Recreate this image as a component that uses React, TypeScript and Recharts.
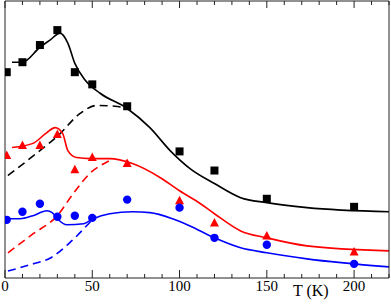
import React from 'react';
import { ComposedChart, Line, Scatter, XAxis, YAxis } from 'recharts';

// measured points (T in K, value in arbitrary units)
const squares = [
  { T: 1, v: 74.3 }, { T: 10, v: 77.9 }, { T: 20, v: 84.1 }, { T: 30, v: 89.5 },
  { T: 40, v: 74.3 }, { T: 50, v: 69.9 }, { T: 70, v: 62.0 }, { T: 100, v: 45.7 },
  { T: 120, v: 38.8 }, { T: 150, v: 28.6 }, { T: 200, v: 25.7 },
];
const triangles = [
  { T: 1, v: 44.2 }, { T: 10, v: 47.8 }, { T: 20, v: 47.8 }, { T: 30, v: 51.8 },
  { T: 40, v: 39.1 }, { T: 50, v: 43.5 }, { T: 70, v: 41.3 }, { T: 100, v: 27.9 },
  { T: 120, v: 19.9 }, { T: 150, v: 15.2 }, { T: 200, v: 9.4 },
];
const circles = [
  { T: 1, v: 21.0 }, { T: 10, v: 23.9 }, { T: 20, v: 26.8 }, { T: 30, v: 22.1 },
  { T: 40, v: 22.5 }, { T: 50, v: 21.7 }, { T: 70, v: 28.3 }, { T: 100, v: 25.4 },
  { T: 120, v: 14.5 }, { T: 150, v: 12.0 }, { T: 200, v: 5.1 },
];

// model curves
const blackSolid = [
  { T: 4, v: 77.9 }, { T: 10, v: 77.9 }, { T: 20, v: 83.3 }, { T: 25.8, v: 85.9 },
  { T: 31.5, v: 88.4 }, { T: 36, v: 84.8 }, { T: 40, v: 77.5 }, { T: 46, v: 71.4 },
  { T: 54.5, v: 66.7 }, { T: 70, v: 61.2 }, { T: 83, v: 54.3 }, { T: 94.6, v: 46.0 },
  { T: 106, v: 39.5 }, { T: 120, v: 34.1 }, { T: 135, v: 29.0 }, { T: 150, v: 27.2 },
  { T: 173, v: 25.4 }, { T: 220, v: 23.9 },
];
const blackDashed = [
  { T: 1.7, v: 37.0 }, { T: 20, v: 46.0 }, { T: 30.4, v: 51.4 }, { T: 43, v: 59.4 },
  { T: 52.7, v: 62.3 }, { T: 63, v: 62.0 }, { T: 70, v: 61.2 },
];
const redSolid = [
  { T: 4, v: 47.1 }, { T: 16, v: 48.6 }, { T: 24, v: 52.5 }, { T: 28.7, v: 54.3 },
  { T: 33, v: 52.2 }, { T: 36, v: 46.0 }, { T: 41, v: 43.5 }, { T: 49, v: 43.1 },
  { T: 60, v: 43.1 }, { T: 73, v: 41.3 }, { T: 89, v: 36.2 }, { T: 100, v: 31.5 },
  { T: 112, v: 26.8 }, { T: 120, v: 23.2 }, { T: 135, v: 17.0 }, { T: 150, v: 14.5 },
  { T: 173, v: 11.6 }, { T: 220, v: 9.8 },
];
const redDashed = [
  { T: 1.7, v: 9.1 }, { T: 16, v: 15.9 }, { T: 30, v: 22.5 }, { T: 39, v: 30.4 },
  { T: 49, v: 38.0 }, { T: 60, v: 42.4 }, { T: 62, v: 43.1 },
];
const blueSolid = [
  { T: 0, v: 21.4 }, { T: 8.6, v: 21.4 }, { T: 16, v: 22.5 }, { T: 24, v: 24.3 },
  { T: 27, v: 23.6 }, { T: 30, v: 21.4 }, { T: 35.5, v: 19.2 }, { T: 45, v: 19.6 },
  { T: 50.5, v: 21.4 }, { T: 60, v: 23.2 }, { T: 73, v: 23.9 }, { T: 83, v: 23.6 },
  { T: 96, v: 21.4 }, { T: 106, v: 18.8 }, { T: 120, v: 14.5 }, { T: 135, v: 10.9 },
  { T: 150, v: 9.1 }, { T: 173, v: 6.9 }, { T: 220, v: 4.0 },
];
const blueDashed = [
  { T: 1.7, v: 2.5 }, { T: 16, v: 5.1 }, { T: 26, v: 7.2 }, { T: 37, v: 12.7 },
  { T: 50.5, v: 21.4 },
];

const tTicks = [0, 10, 20, 30, 40, 50, 60, 70, 80, 90, 100, 110, 120, 130, 140, 150, 160, 170, 180, 190, 200, 210, 220];
const tLabels = [0, 50, 100, 150, 200];

const FONT = '"Liberation Serif", "Times New Roman", serif';
const AXIS = '#222';
const RED = '#ff0000';
const BLUE = '#0000ff';

const BottomTick = (props: any) => {
  const { x, y, payload } = props;
  const major = tLabels.includes(payload.value);
  return (
    <g>
      <line x1={x} x2={x} y1={y} y2={y - (major ? 8 : 4)} stroke={AXIS} />
      {major && (
        <text x={x} y={y + 13} textAnchor="middle" fontSize={15} fontFamily={FONT} fill="#000">
          {payload.value}
        </text>
      )}
    </g>
  );
};

const TopTick = (props: any) => {
  const { x, y, payload } = props;
  const major = tLabels.includes(payload.value);
  return <line x1={x} x2={x} y1={y} y2={y + (major ? 7 : 4)} stroke={AXIS} />;
};

const Square = (props: any) => (
  <rect x={props.cx - 4} y={props.cy - 4} width={8} height={8} fill="#000" />
);
const Triangle = (props: any) => (
  <polygon
    points={`${props.cx},${props.cy - 5} ${props.cx + 4.5},${props.cy + 3.5} ${props.cx - 4.5},${props.cy + 3.5}`}
    fill={RED}
  />
);
const Dot = (props: any) => <circle cx={props.cx} cy={props.cy} r={4.2} fill={BLUE} />;

export default function App() {
  return (
    <div style={{ position: 'absolute', left: 0, top: 0, width: 391, height: 304, background: '#fff' }}>
      <ComposedChart width={391} height={304} margin={{ top: 0, right: 0, bottom: 0, left: 0 }}>
        <XAxis
          dataKey="T"
          type="number"
          domain={[0, 220]}
          ticks={tTicks}
          interval={0}
          height={26}
          tickSize={0}
          tickMargin={0}
          tickLine={false}
          tick={<BottomTick />}
          axisLine={{ stroke: AXIS }}
          allowDataOverflow
        />
        <XAxis
          xAxisId="top"
          orientation="top"
          dataKey="T"
          type="number"
          domain={[0, 220]}
          ticks={tTicks}
          interval={0}
          height={1}
          tickSize={0}
          tickMargin={0}
          tickLine={false}
          tick={<TopTick />}
          axisLine={{ stroke: AXIS }}
          allowDataOverflow
        />
        <YAxis dataKey="v" type="number" domain={[0, 100]} width={5} tick={false} tickLine={false} axisLine={{ stroke: AXIS }} allowDataOverflow />
        <YAxis yAxisId="r" orientation="right" dataKey="v" type="number" domain={[0, 100]} width={2} tick={false} tickLine={false} axisLine={{ stroke: AXIS }} />

        <Line data={blackDashed} dataKey="v" type="monotone" stroke="#000" strokeWidth={1.6} strokeDasharray="8 5" dot={false} isAnimationActive={false} />
        <Line data={redDashed} dataKey="v" type="monotone" stroke={RED} strokeWidth={1.6} strokeDasharray="8 5" dot={false} isAnimationActive={false} />
        <Line data={blueDashed} dataKey="v" type="monotone" stroke={BLUE} strokeWidth={1.6} strokeDasharray="8 5" dot={false} isAnimationActive={false} />
        <Line data={blackSolid} dataKey="v" type="monotone" stroke="#000" strokeWidth={1.6} dot={false} isAnimationActive={false} />
        <Line data={redSolid} dataKey="v" type="monotone" stroke={RED} strokeWidth={1.6} dot={false} isAnimationActive={false} />
        <Line data={blueSolid} dataKey="v" type="monotone" stroke={BLUE} strokeWidth={1.6} dot={false} isAnimationActive={false} />

        <Scatter data={squares} dataKey="v" shape={<Square />} isAnimationActive={false} />
        <Scatter data={triangles} dataKey="v" shape={<Triangle />} isAnimationActive={false} />
        <Scatter data={circles} dataKey="v" shape={<Dot />} isAnimationActive={false} />
      </ComposedChart>
      <span
        style={{ position: 'absolute', left: 293, top: 283, fontFamily: FONT, fontSize: 16, lineHeight: '16px', color: '#000', whiteSpace: 'nowrap' }}
      >
        T (K)
      </span>
    </div>
  );
}
